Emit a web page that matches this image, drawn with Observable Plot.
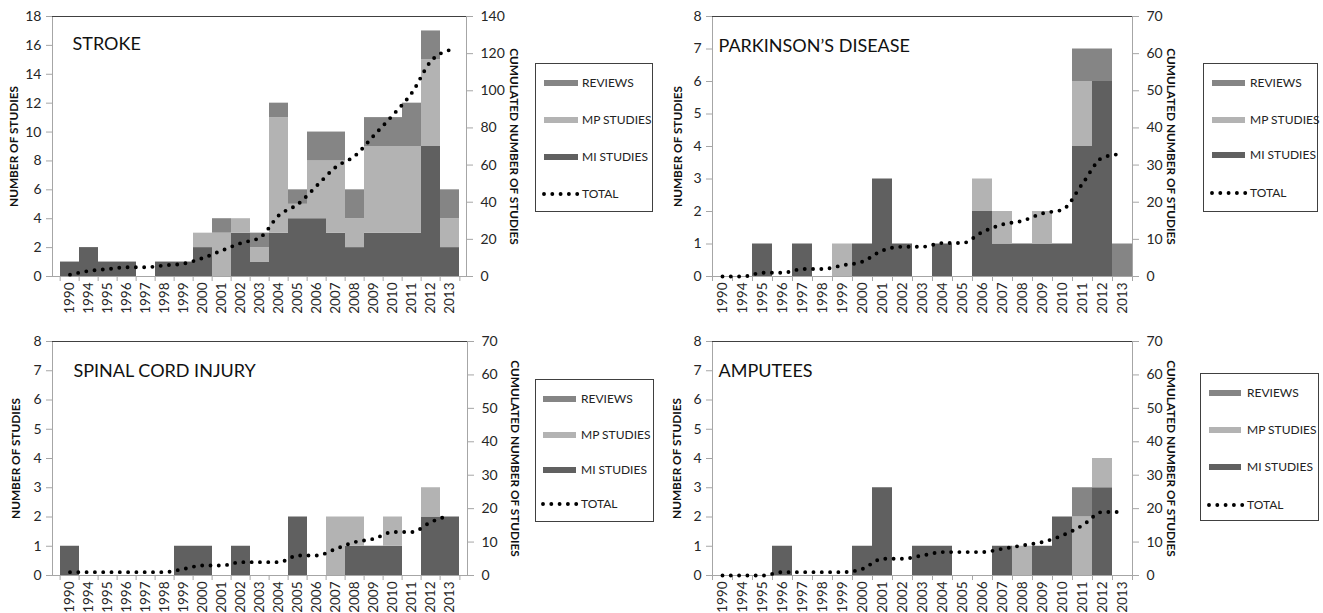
<!DOCTYPE html>
<html><head><meta charset="utf-8">
<script src="https://cdn.jsdelivr.net/npm/d3@7"></script>
<script src="https://cdn.jsdelivr.net/npm/@observablehq/plot@0.6"></script>
<style>
body{margin:0;background:#fff;font-family:Lato,"DejaVu Sans",sans-serif;}
#root{position:relative;width:1323px;height:613px;overflow:hidden;background:#fff;}
.panel{position:absolute;}
.legend{position:absolute;border:1px solid #404040;box-sizing:border-box;background:#fff;}
.sw{position:absolute;height:6px;}
.lt{position:absolute;font-size:12px;color:#222;line-height:14px;white-space:nowrap;}
.ld{position:absolute;}
</style></head><body><div id="root"></div>
<script>
const years = ["1990","1994","1995","1996","1997","1998","1999","2000","2001","2002","2003","2004","2005","2006","2007","2008","2009","2010","2011","2012","2013"];
const seriesNames = ["MI STUDIES","MP STUDIES","REVIEWS"];
const seriesColors = ["#606060","#b3b3b3","#858585"];
const legendOrder = ["REVIEWS","MP STUDIES","MI STUDIES","TOTAL"];

const strokeMI    = [1,2,1,1,0,1,1,2,0,3,1,3,4,4,3,2,3,3,3,9,2];
const strokeMP    = [0,0,0,0,0,0,0,1,3,1,1,8,1,4,5,2,6,6,6,6,2];
const strokeRev   = [0,0,0,0,0,0,0,0,1,0,1,1,1,2,2,2,2,2,3,2,2];
const strokeTotal = [1,3,4,5,5,6,7,10,14,18,21,33,39,49,59,65,76,87,99,116,122];

const parkMI    = [0,0,1,0,1,0,0,1,3,1,0,1,0,2,1,1,1,1,4,6,0];
const parkMP    = [0,0,0,0,0,0,1,0,0,0,0,0,0,1,1,0,1,0,2,0,0];
const parkRev   = [0,0,0,0,0,0,0,0,0,0,0,0,0,0,0,0,0,0,1,1,1];
const parkTotal = [0,0,1,1,2,2,3,4,7,8,8,9,9,12,14,15,17,18,25,32,33];

const sciMI    = [1,0,0,0,0,0,1,1,0,1,0,0,2,0,0,1,1,1,0,2,2];
const sciMP    = [0,0,0,0,0,0,0,0,0,0,0,0,0,0,2,1,0,1,0,1,0];
const sciRev   = [0,0,0,0,0,0,0,0,0,0,0,0,0,0,0,0,0,0,0,0,0];
const sciTotal = [1,1,1,1,1,1,2,3,3,4,4,4,6,6,8,10,11,13,13,16,18];

const ampMI    = [0,0,0,1,0,0,0,1,3,0,1,1,0,0,1,0,1,2,0,3,0];
const ampMP    = [0,0,0,0,0,0,0,0,0,0,0,0,0,0,0,1,0,0,2,1,0];
const ampRev   = [0,0,0,0,0,0,0,0,0,0,0,0,0,0,0,0,0,0,1,0,0];
const ampTotal = [0,0,0,1,1,1,1,2,5,5,6,7,7,7,8,9,10,12,15,19,19];

const root = document.getElementById("root");

function panel(cfg) {
  const ratio = cfg.leftMax / cfg.rightMax;
  const long = [];
  years.forEach((yr, i) => {
    long.push({year: yr, type: seriesNames[0], value: cfg.mi[i]});
    long.push({year: yr, type: seriesNames[1], value: cfg.mp[i]});
    long.push({year: yr, type: seriesNames[2], value: cfg.rev[i]});
  });
  const line = years.map((yr, i) => ({year: yr, total: cfg.total[i] * ratio}));
  const mL = 52, mR = cfg.marginRight, mT = 16, mB = 29;
  const bw = (cfg.width - mL - mR) / years.length;
  const svg = Plot.plot({
    width: cfg.width, height: cfg.height,
    marginLeft: mL, marginRight: mR, marginTop: mT, marginBottom: mB,
    style: {fontFamily: "Lato, sans-serif", fontSize: "14px", color: "#262626", background: "transparent", overflow: "visible"},
    x: {type: "band", domain: years, padding: 0},
    y: {domain: [0, cfg.leftMax]},
    color: {domain: seriesNames, range: seriesColors},
    marks: [
      Plot.barY(long, {x: "year", y: "value", fill: "type"}),
      Plot.frame({stroke: "#a6a6a6"}),
      Plot.ruleY([cfg.leftMax], {stroke: "#404040"}),
      Plot.ruleX(years, {x: d => d, y1: 0, y2: 0, insetBottom: -5, dx: -bw / 2, stroke: "#a6a6a6"}),
      Plot.ruleX([years[years.length - 1]], {x: d => d, y1: 0, y2: 0, insetBottom: -5, dx: bw / 2, stroke: "#a6a6a6"}),
      Plot.axisX({tickSize: 0, tickPadding: 6, tickRotate: -90, label: null, fill: "#262626", fontSize: 13.5}),
      Plot.axisY({anchor: "left", ticks: d3.range(0, cfg.leftMax + 1e-9, cfg.leftStep), tickSize: 6, tickPadding: 5, stroke: "#a6a6a6", fill: "#262626", label: null, fontSize: 14}),
      Plot.axisY({anchor: "right", ticks: d3.range(0, cfg.rightMax + 1e-9, cfg.rightStep).map(v => v * ratio), tickFormat: d => Math.round(d / ratio), tickSize: 6, tickPadding: 8, stroke: "#a6a6a6", fill: "#262626", label: null, fontSize: 14}),
      Plot.line(line, {x: "year", y: "total", curve: "monotone-x", stroke: "#000", strokeWidth: 3.9, strokeDasharray: "0 8.3", strokeLinecap: "round"}),
      Plot.text([cfg.title], {frameAnchor: "top-left", dx: cfg.tdx, dy: cfg.tdy, lineAnchor: "top", textAnchor: "start", fontSize: 18, fill: "#111"}),
      Plot.text(["NUMBER OF STUDIES"], {frameAnchor: "left", rotate: -90, textAnchor: "middle", dx: cfg.ldx, fontSize: 11.8, fontWeight: "bold", fill: "#111"}),
      Plot.text(["CUMULATED NUMBER OF STUDIES"], {frameAnchor: "right", rotate: 90, textAnchor: "middle", dx: cfg.rdx, fontSize: 11.8, fontWeight: "bold", fill: "#111"})
    ]
  });
  const div = document.createElement("div");
  div.className = "panel";
  div.style.left = cfg.left + "px";
  div.style.top = cfg.top + "px";
  div.appendChild(svg);
  root.appendChild(div);
}

function legend(cfg) {
  const box = document.createElement("div");
  box.className = "legend";
  Object.assign(box.style, {left: cfg.x + "px", top: cfg.y + "px", width: cfg.w + "px", height: cfg.h + "px"});
  const colorOf = {"REVIEWS": seriesColors[2], "MP STUDIES": seriesColors[1], "MI STUDIES": seriesColors[0]};
  legendOrder.forEach((name, i) => {
    const cy = cfg.rows[i];
    if (name === "TOTAL") {
      const s = document.createElementNS("http://www.w3.org/2000/svg", "svg");
      s.setAttribute("width", 44); s.setAttribute("height", 8);
      s.setAttribute("class", "ld");
      s.style.left = (cfg.sx - 3) + "px"; s.style.top = (cy - 4) + "px";
      s.innerHTML = `<line x1="3" y1="4" x2="40" y2="4" stroke="#000" stroke-width="3.9" stroke-linecap="round" stroke-dasharray="0 8.3"/>`;
      box.appendChild(s);
    } else {
      const sw = document.createElement("div");
      sw.className = "sw";
      Object.assign(sw.style, {left: cfg.sx + "px", top: (cy - 3) + "px", width: cfg.sw + "px", background: colorOf[name]});
      box.appendChild(sw);
    }
    const t = document.createElement("div");
    t.className = "lt";
    t.textContent = name;
    Object.assign(t.style, {left: cfg.tx + "px", top: (cy - 7) + "px"});
    box.appendChild(t);
  });
  root.appendChild(box);
}

panel({title: "STROKE", mi: strokeMI, mp: strokeMP, rev: strokeRev, total: strokeTotal,
  leftMax: 18, leftStep: 2, rightMax: 140, rightStep: 20,
  left: 0, top: 0, width: 530, height: 305, marginRight: 64, tdx: 20, tdy: 21, ldx: -38, rdx: 47});
panel({title: "PARKINSON’S DISEASE", mi: parkMI, mp: parkMP, rev: parkRev, total: parkTotal,
  leftMax: 8, leftStep: 1, rightMax: 70, rightStep: 10,
  left: 660, top: 0, width: 535, height: 305, marginRight: 63, tdx: 6, tdy: 23, ldx: -34.5, rdx: 38});
panel({title: "SPINAL CORD INJURY", mi: sciMI, mp: sciMP, rev: sciRev, total: sciTotal,
  leftMax: 8, leftStep: 1, rightMax: 70, rightStep: 10,
  left: 0, top: 325, width: 530, height: 279, marginRight: 63, tdx: 21, tdy: 22.7, ldx: -36, rdx: 47});
panel({title: "AMPUTEES", mi: ampMI, mp: ampMP, rev: ampRev, total: ampTotal,
  leftMax: 8, leftStep: 1, rightMax: 70, rightStep: 10,
  left: 660, top: 325, width: 535, height: 279, marginRight: 63, tdx: 6, tdy: 22.7, ldx: -35, rdx: 38});

legend({x: 535, y: 63, w: 118, h: 149, sx: 8, sw: 34, tx: 46, rows: [19, 56, 93, 130]});
legend({x: 1203, y: 63, w: 115, h: 149, sx: 8, sw: 33, tx: 46, rows: [19, 56, 91, 129]});
legend({x: 535, y: 379, w: 119, h: 143, sx: 7, sw: 33, tx: 45, rows: [19, 55, 90, 124]});
legend({x: 1200, y: 373, w: 119, h: 148, sx: 8, sw: 32, tx: 46, rows: [19, 56, 93, 131]});
</script></body></html>
